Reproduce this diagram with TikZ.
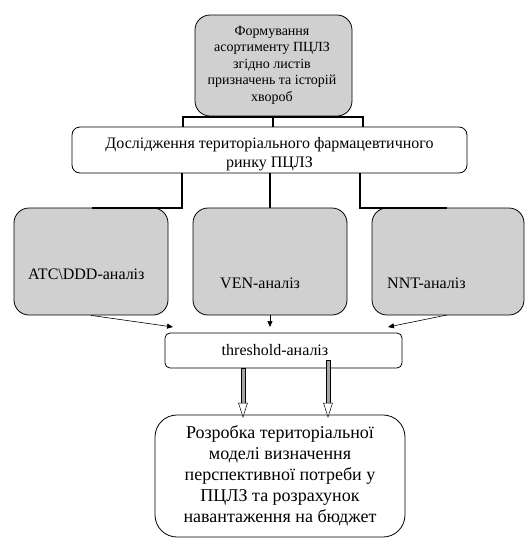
\documentclass[tikz,border=0pt]{standalone}
\usepackage{fontspec}
\setmainfont{Liberation Serif}
\usetikzlibrary{arrows.meta}
\definecolor{boxgray}{RGB}{208,208,208}
\begin{document}
\begin{tikzpicture}[x=1pt,y=-1pt,
  box/.style={draw=black, line width=0.8pt, rectangle, inner sep=0pt},
  graybox/.style={box, fill=boxgray, rounded corners=15pt},
  txt/.style={align=center, inner sep=0pt, font=\fontsize{16}{18.5}\selectfont},
  bracket/.style={line width=2.4pt},
  thinarrow/.style={line width=0.6pt, -{Triangle[length=6pt,width=5pt]}},
  hollowshaft/.style={draw=black, line width=0.5pt, fill=gray!70},
  hollowhead/.style={draw=black, line width=0.5pt, fill=white}
]
\useasboundingbox (0,0) rectangle (529,539);

% boxes
\node[graybox, minimum width=157pt, minimum height=101pt] (form) at (273.5,65.5) {};
\node[txt, font=\fontsize{14}{16.5}\selectfont] (formt) at (272,65) {Формування\\асортименту ПЦЛЗ\\згідно листів\\призначень та історій\\хвороб};

\node[box, rounded corners=8pt, minimum width=395pt, minimum height=46pt] (res) at (269.5,150) {};
\node[txt] (rest) at (269.5,154) {Дослідження територіального фармацевтичного\\ринку ПЦЛЗ};

\node[graybox, minimum width=154pt, minimum height=107pt] (atc) at (91,261.5) {};
\node[graybox, minimum width=154pt, minimum height=107pt] (ven) at (270,261.5) {};
\node[graybox, minimum width=152pt, minimum height=107pt] (nnt) at (448,261.5) {};
\node[txt, anchor=base west] (atct) at (28,279) {ATC\textbackslash DDD-аналіз};
\node[txt, anchor=base west] (vent) at (220,288) {VEN-аналіз};
\node[txt, anchor=base west] (nntt) at (387,288) {NNT-аналіз};

\node[box, rounded corners=5pt, minimum width=237pt, minimum height=35pt] (thr) at (283.5,350.5) {};
\node[txt] (thrt) at (275,350.5) {threshold-аналіз};

\node[box, rounded corners=22pt, minimum width=250pt, minimum height=122pt] (mod) at (280,476) {};
\node[txt, font=\fontsize{18}{21}\selectfont] (modt) at (mod) {Розробка територіальної\\моделі визначення\\перспективної потреби у\\ПЦЛЗ та розрахунок\\навантаження на бюджет};

% top bracket
\coordinate (tl) at (183,117);
\coordinate (tm) at (273,117);
\coordinate (tr) at (363,117);
\draw[bracket] (tl |- res.north) -- (tl) -- (tr) -- (tr |- res.north);
\draw[bracket] (tm |- form.south) -- (tm |- res.north);

% lower bracket
\coordinate (bl) at (182,208);
\coordinate (bm) at (270,208);
\coordinate (br) at (360,208);
\coordinate (blend) at (92,208);
\coordinate (brend) at (447,208);
\draw[bracket] (bl |- res.south) -- (bl) -- (blend);
\draw[bracket] (bm |- res.south) -- (ven.north);
\draw[bracket] (br |- res.south) -- (br) -- (brend);

% thin arrows to threshold
\coordinate (a1) at (173,327);
\coordinate (a2) at (270,327);
\coordinate (a3) at (388,327);
\draw[thinarrow] (atc.south) -- (a1);
\draw[thinarrow] (ven.south) -- (a2);
\draw[thinarrow] (447,315) -- (a3);

% hollow double arrows
\foreach \x/\ys in {243/368, 328/360}{
  \draw[hollowshaft] (\x-2,\ys) rectangle (\x+2,403);
  \draw[hollowhead] (\x-4.5,403) -- (\x+4.5,403) -- (\x,417) -- cycle;
}
\end{tikzpicture}
\end{document}
